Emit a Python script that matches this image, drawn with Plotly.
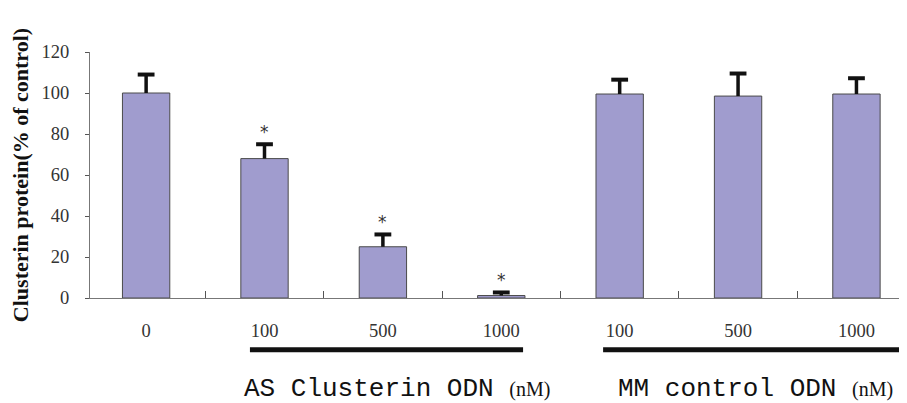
import plotly.graph_objects as go

categories = ["0", "100", "500", "1000", "100", "500", "1000"]
values = [100, 68, 25, 1.2, 99.5, 98.5, 99.5]
errors = [9, 7, 6, 1.5, 7, 11, 7.7]
significant = [False, True, True, True, False, False, False]
groups = ["AS Clusterin ODN", "MM control ODN"]
unit = "(nM)"
yticks = [0, 20, 40, 60, 80, 100, 120]

x = list(range(len(categories)))
tops = [v + e for v, e in zip(values, errors)]

fig = go.Figure()
fig.add_trace(go.Bar(
    x=x, y=values, width=0.4,
    marker=dict(color="#a09cce", line=dict(color="#4a4a4a", width=1)),
    error_y=dict(type="data", array=errors, arrayminus=[0] * len(errors),
                 symmetric=False, color="#111111", thickness=3.5, width=0),
    showlegend=False, hoverinfo="skip",
))
# error bar caps
fig.add_trace(go.Scatter(
    x=x, y=tops, mode="markers",
    marker=dict(symbol="line-ew", size=12, color="#111111",
                line=dict(color="#111111", width=4)),
    showlegend=False, hoverinfo="skip",
))

annotations = []
for xi, t, s in zip(x, tops, significant):
    if s:
        annotations.append(dict(x=xi, y=t, xref="x", yref="y", text="*",
                                showarrow=False, yshift=12,
                                font=dict(family="DejaVu Sans", size=17, color="#333")))

unit_span = " <span style='font-family:Liberation Serif;font-size:20px'>" + unit + "</span>"
annotations.append(dict(x=0.186, y=-0.37, xref="paper", yref="paper", xanchor="left",
                        yanchor="middle", showarrow=False,
                        text=groups[0] + unit_span,
                        font=dict(family="Liberation Mono", size=26, color="#111")))
annotations.append(dict(x=0.644, y=-0.37, xref="paper", yref="paper", xanchor="left",
                        yanchor="middle", showarrow=False,
                        text=groups[1] + unit_span,
                        font=dict(family="Liberation Mono", size=26, color="#111")))

shapes = [
    dict(type="line", xref="x", yref="paper", x0=0.877, x1=3.184, y0=-0.2105, y1=-0.2105,
         line=dict(color="#111", width=5)),
    dict(type="line", xref="x", yref="paper", x0=3.86, x1=6.41, y0=-0.2105, y1=-0.2105,
         line=dict(color="#111", width=5)),
]

fig.update_layout(
    width=899, height=395,
    margin=dict(l=82, r=0, t=44, b=105),
    plot_bgcolor="white", paper_bgcolor="white",
    annotations=annotations, shapes=shapes,
)
fig.update_xaxes(
    range=[-0.474, 6.427],
    tickvals=x, ticktext=categories, ticks="",
    ticklabelstandoff=16,
    tickfont=dict(family="Liberation Serif", size=18.5, color="#333"),
    showline=True, linecolor="#777", linewidth=1.2,
    showgrid=False, zeroline=False,
    minor=dict(tickvals=[i + 0.5 for i in x[:-1]], ticks="inside", ticklen=7,
               tickcolor="#555", tickwidth=1, showgrid=False),
)
fig.update_yaxes(
    range=[0, 120], tickvals=yticks,
    ticks="outside", ticklen=4, tickcolor="#555",
    ticklabelstandoff=12,
    tickfont=dict(family="Liberation Serif", size=18.5, color="#333"),
    showline=True, linecolor="#777", linewidth=1.2,
    showgrid=False, zeroline=False,
    title=dict(text="<b>Clusterin protein(% of control)</b>",
               font=dict(family="Liberation Serif", size=22, color="#111"), standoff=8),
)

fig.write_html("out.html")
